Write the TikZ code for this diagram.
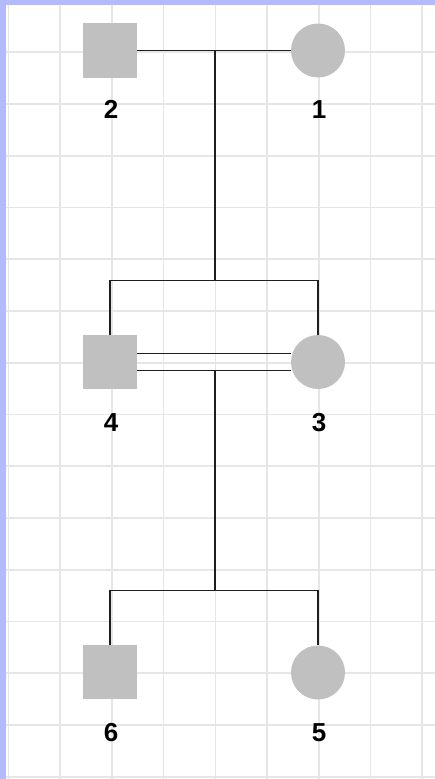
\documentclass[tikz,border=0pt]{standalone}
\usepackage{fontspec}
\setmainfont{Liberation Sans}
\definecolor{bord}{HTML}{B4BAFF}
\definecolor{gridc}{HTML}{E6E6E6}
\definecolor{shape}{HTML}{C0C0C0}
\definecolor{ink}{HTML}{1E1E1E}
\tikzset{
  male/.style={rectangle, fill=shape, minimum size=54.5pt, inner sep=0pt},
  female/.style={circle, fill=shape, minimum size=54pt, inner sep=0pt},
  lbl/.style={anchor=base, inner sep=0pt, font=\fontsize{26}{26}\selectfont\bfseries, text=black},
  link/.style={draw=ink, line width=1.9pt}
}
\begin{document}
\begin{tikzpicture}[x=1pt, y=-1pt]
\useasboundingbox (0,0) rectangle (435,779);
\fill[white] (0,0) rectangle (435,779);
% grid
\foreach \k in {0,...,8} {
  \draw[gridc, line width=1.6pt] ({8.5+51.7*\k},5) -- ({8.5+51.7*\k},779);
}
\foreach \k in {1,...,15} {
  \draw[gridc, line width=1.6pt] (6,{0.5+51.75*\k}) -- (435,{0.5+51.75*\k});
}
% border
\fill[bord] (0,0) rectangle (6,779);
\fill[bord] (0,0) rectangle (435,5);

% generation 1
\node[male] (n2) at (110,50.5) {};
\node[female] (n1) at (318,50.5) {};
\node[lbl] (l2) at (111,118.5) {2};
\node[lbl] (l1) at (319,118.5) {1};

% generation 2
\node[male] (n4) at (110,362) {};
\node[female] (n3) at (318,362) {};
\node[lbl] (l4) at (111,431.5) {4};
\node[lbl] (l3) at (319,431.5) {3};

% generation 3
\node[male] (n6) at (110,672) {};
\node[female] (n5) at (318,672.5) {};
\node[lbl] (l6) at (111,741.5) {6};
\node[lbl] (l5) at (319,741.5) {5};

% connectors
\coordinate (m1) at (215,50.5);
\coordinate (s1) at (215,280.5);
\coordinate (m2) at (215,370.5);
\coordinate (s2) at (215,590.5);

\draw[link] (n2.east) -- (n1.west);
\draw[link] (m1) -- (s1);
\draw[link] (n4.north) |- (s1) -| (n3.north);

\draw[link] ([yshift=8.5pt]n4.east) -- ([yshift=8.5pt]n3.west);
\draw[link] ([yshift=-8.5pt]n4.east) -- ([yshift=-8.5pt]n3.west);
\draw[link] (m2) -- (s2);
\draw[link] (n6.north) |- (s2) -| (n5.north);
\end{tikzpicture}
\end{document}
